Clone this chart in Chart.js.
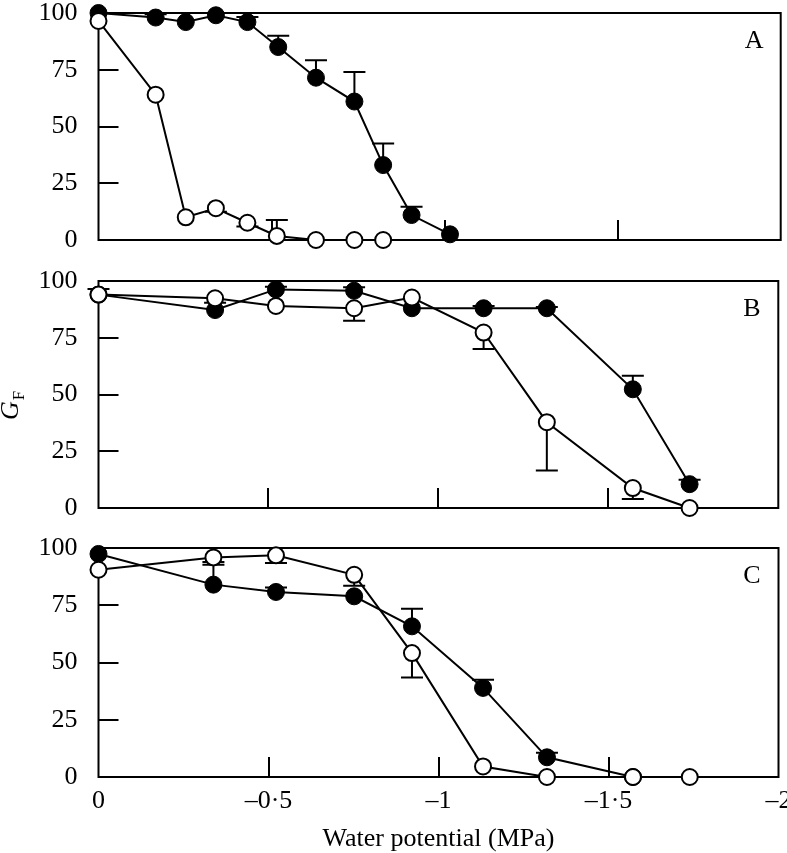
<!DOCTYPE html>
<html>
<head>
<meta charset="utf-8">
<script src="https://cdn.jsdelivr.net/npm/chart.js@4.4.1/dist/chart.umd.min.js"></script>
<style>
  html, body { margin: 0; padding: 0; background: #fff; overflow: hidden; }
  #wrap { position: relative; width: 787px; height: 853px; overflow: hidden; background: #fff; }
  canvas { position: absolute; left: 0; }
</style>
</head>
<body>
<div id="wrap">
  <canvas id="panelA"></canvas>
  <canvas id="panelB"></canvas>
  <canvas id="panelC"></canvas>
</div>
<script>
// tick positions shared by the three panels
const xTicks = [-0.5, -1, -1.5];
const yTicks = [25, 50, 75];

// Panel A
const aFilledX = [0, -0.165, -0.252, -0.339, -0.43, -0.519, -0.628, -0.739, -0.822, -0.904, -1.015];
const aFilledY = [100, 98, 96, 99, 96, 85, 71.5, 61, 33, 11, 2.5];
const aFilledErr = [0, 1.5, 0, 0, 2.2, 5, 7.7, 13, 9.5, 3.7, 0];
const aOpenX = [0, -0.165, -0.252, -0.339, -0.43, -0.515, -0.628, -0.739, -0.822];
const aOpenY = [96.5, 64, 10, 14, 7.6, 1.8, 0, 0, 0];
const aOpenErr = [0, 0, 0, -1.5, -1.7, 7, 0, 0, 0];

// Panel B
const bX = [0, -0.343, -0.522, -0.752, -0.922, -1.133, -1.319, -1.572, -1.739];
const bFilledY = [94, 87.2, 96.3, 95.7, 88, 88, 88, 52.3, 10.5];
const bFilledErr = [2.5, 0, 1.2, 1.5, 0, 1, 0.5, 6, 2];
const bOpenY = [94, 92.4, 89, 88, 92.7, 77.3, 37.8, 8.8, 0];
const bOpenErr = [0, -2, 0, -5.5, 0, -7.3, -21.3, -4.8, 0];

// Panel C
const cFilledX = [0, -0.338, -0.522, -0.752, -0.922, -1.131, -1.319, -1.572];
const cFilledY = [97.4, 84, 80.8, 78.9, 65.8, 38.9, 8.6, 0];
const cFilledErr = [0, 8.7, 2, 0, 7.7, 3.6, 2, 0];
const cOpenX = [0, -0.338, -0.522, -0.752, -0.922, -1.131, -1.319, -1.572, -1.739];
const cOpenY = [90.5, 95.9, 96.8, 88.3, 54.1, 4.6, 0, 0, 0];
const cOpenErr = [0, -2, -3.4, -4.8, -10.6, 0, 0, 0, 0];

const FONT = "'Liberation Serif', 'Times New Roman', serif";
const PAD = 40;
const CANVAS_W = 820;

function pts(xs, ys) {
  return xs.map((x, i) => ({ x: x, y: ys[i] }));
}

function fmtX(v) {
  if (v === 0) return '0';
  return '\u2013' + String(Math.round(Math.abs(v) * 10) / 10).replace('.', '\u00b7');
}

// frame, inside ticks, error bars, panel letter, y title
const panelDecor = {
  id: 'panelDecor',
  beforeDatasetsDraw(chart, args, opts) {
    const ctx = chart.ctx;
    const a = chart.chartArea;
    const xs = chart.scales.x, ys = chart.scales.y;
    ctx.save();
    ctx.strokeStyle = '#000';
    ctx.lineWidth = 2;
    ctx.strokeRect(a.left, a.top, a.right - a.left, a.bottom - a.top);
    ctx.beginPath();
    yTicks.forEach(v => {
      const py = Math.round(ys.getPixelForValue(v));
      ctx.moveTo(a.left, py);
      ctx.lineTo(a.left + 20, py);
    });
    xTicks.forEach(v => {
      const px = Math.round(xs.getPixelForValue(v));
      ctx.moveTo(px, a.bottom);
      ctx.lineTo(px, a.bottom - 20);
    });
    ctx.stroke();

    // error bars, under the markers
    chart.data.datasets.forEach(ds => {
      const errs = ds.errorBars || [];
      ctx.beginPath();
      ds.data.forEach((p, i) => {
        const e = errs[i];
        if (!e) return;
        const px = xs.getPixelForValue(p.x);
        const p0 = ys.getPixelForValue(p.y);
        const p1 = ys.getPixelForValue(p.y + e);
        ctx.moveTo(px, p0);
        ctx.lineTo(px, p1);
        ctx.moveTo(px - 11, p1);
        ctx.lineTo(px + 11, p1);
      });
      ctx.stroke();
    });
    ctx.restore();
  },
  afterDraw(chart, args, opts) {
    const ctx = chart.ctx;
    const a = chart.chartArea;
    ctx.save();
    ctx.fillStyle = '#000';
    ctx.font = '26px ' + FONT;
    ctx.textAlign = 'center';
    ctx.textBaseline = 'middle';
    ctx.fillText(opts.letter, a.right - 26.5, a.top + 28);
    if (opts.yTitle) {
      ctx.translate(18, a.top + 139);
      ctx.rotate(-Math.PI / 2);
      ctx.textAlign = 'left';
      ctx.textBaseline = 'alphabetic';
      ctx.font = 'italic 26px ' + FONT;
      ctx.fillText('G', 0, 0);
      const w = ctx.measureText('G').width;
      ctx.font = '17px ' + FONT;
      ctx.fillText('F', w + 1, 6);
    }
    ctx.restore();
  }
};

function makePanel(id, cfg) {
  const canvas = document.getElementById(id);
  const showX = !!cfg.showX;
  const canvasTop = cfg.top - PAD;
  const height = showX ? 853 - canvasTop : (cfg.bottom - cfg.top) + 2 * PAD;
  canvas.width = CANVAS_W;
  canvas.height = height;
  canvas.style.top = canvasTop + 'px';
  canvas.style.width = CANVAS_W + 'px';
  canvas.style.height = height + 'px';

  const tickFont = { family: FONT, size: 26 };

  return new Chart(canvas.getContext('2d'), {
    type: 'line',
    data: {
      datasets: [
        {
          label: 'open',
          data: pts(cfg.openX, cfg.openY),
          errorBars: cfg.openErr,
          borderColor: '#000',
          borderWidth: 2,
          pointRadius: 8,
          pointBackgroundColor: '#fff',
          pointBorderColor: '#000',
          pointBorderWidth: 2,
          tension: 0,
          clip: false,
        },
        {
          label: 'filled',
          data: pts(cfg.filledX, cfg.filledY),
          errorBars: cfg.filledErr,
          borderColor: '#000',
          borderWidth: 2,
          pointRadius: 8.5,
          pointBackgroundColor: '#000',
          pointBorderColor: '#000',
          pointBorderWidth: 1,
          tension: 0,
          clip: false,
        },
      ],
    },
    options: {
      responsive: false,
      animation: false,
      events: [],
      layout: {
        padding: { top: PAD, left: 0, right: CANVAS_W - cfg.right, bottom: showX ? 0 : PAD },
      },
      plugins: {
        legend: { display: false },
        tooltip: { enabled: false },
        panelDecor: { letter: cfg.letter, yTitle: !!cfg.yTitle },
      },
      scales: {
        x: {
          type: 'linear',
          min: cfg.xMin,
          max: 0,
          reverse: true,
          display: showX,
          grid: { display: false, drawTicks: false },
          border: { display: false },
          ticks: {
            stepSize: 0.5,
            padding: 9,
            color: '#000',
            font: tickFont,
            maxRotation: 0,
            autoSkip: false,
            callback: fmtX,
          },
          title: {
            display: showX,
            text: 'Water potential (MPa)',
            color: '#000',
            font: tickFont,
            padding: { top: 0, bottom: -2 },
          },
          afterFit: s => { if (showX) s.height = 853 - cfg.bottom; },
        },
        y: {
          min: 0,
          max: 100,
          grid: { display: false, drawTicks: false },
          border: { display: false },
          ticks: { stepSize: 25, padding: 21, color: '#000', font: tickFont },
          afterFit: s => { s.width = 98.5; },
        },
      },
    },
    plugins: [panelDecor],
  });
}

makePanel('panelA', {
  top: 13, bottom: 240, right: 780.7, xMin: -1.97, letter: 'A',
  filledX: aFilledX, filledY: aFilledY, filledErr: aFilledErr,
  openX: aOpenX, openY: aOpenY, openErr: aOpenErr,
});
makePanel('panelB', {
  top: 281, bottom: 508, right: 778.3, xMin: -2, letter: 'B', yTitle: true,
  filledX: bX, filledY: bFilledY, filledErr: bFilledErr,
  openX: bX, openY: bOpenY, openErr: bOpenErr,
});
makePanel('panelC', {
  top: 548, bottom: 777, right: 778.5, xMin: -2, letter: 'C', showX: true,
  filledX: cFilledX, filledY: cFilledY, filledErr: cFilledErr,
  openX: cOpenX, openY: cOpenY, openErr: cOpenErr,
});
</script>
</body>
</html>
